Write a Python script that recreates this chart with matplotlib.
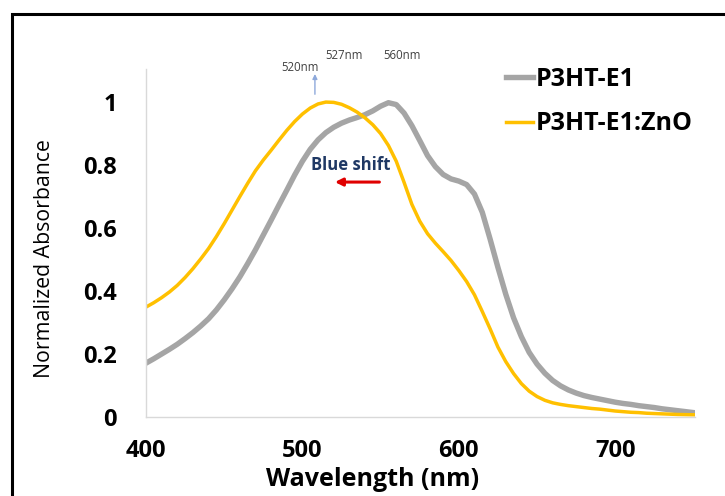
"""Normalized absorbance of P3HT-E1 with and without ZnO."""
import numpy as np
import matplotlib
matplotlib.use("Agg")
import matplotlib.pyplot as plt
from matplotlib.patches import Rectangle

plt.rcParams["font.family"] = ["Open Sans", "DejaVu Sans"]

# wavelength grid (nm) and normalised absorbance
wavelength = list(range(400, 755, 5))
p3ht_e1 = [0.171, 0.185, 0.200, 0.215, 0.231, 0.249, 0.268, 0.289, 0.312, 0.340,
           0.372, 0.407, 0.445, 0.487, 0.531, 0.578, 0.625, 0.673, 0.720, 0.768,
           0.812, 0.850, 0.880, 0.903, 0.920, 0.933, 0.943, 0.951, 0.960, 0.972,
           0.987, 0.998, 0.992, 0.965, 0.925, 0.878, 0.830, 0.795, 0.770, 0.756,
           0.749, 0.738, 0.708, 0.650, 0.565, 0.475, 0.390, 0.315, 0.255, 0.205,
           0.168, 0.139, 0.116, 0.099, 0.086, 0.076, 0.068, 0.062, 0.057, 0.052,
           0.047, 0.043, 0.040, 0.036, 0.033, 0.030, 0.026, 0.023, 0.020, 0.017,
           0.014]
p3ht_e1_zno = [0.349, 0.363, 0.379, 0.397, 0.418, 0.443, 0.471, 0.502, 0.535, 0.573,
               0.614, 0.657, 0.700, 0.742, 0.782, 0.816, 0.847, 0.879, 0.910, 0.938,
               0.962, 0.981, 0.994, 1.000, 0.999, 0.993, 0.982, 0.968, 0.950, 0.928,
               0.900, 0.862, 0.812, 0.745, 0.675, 0.622, 0.582, 0.552, 0.525, 0.497,
               0.465, 0.430, 0.388, 0.335, 0.280, 0.222, 0.176, 0.138, 0.106, 0.082,
               0.065, 0.053, 0.045, 0.040, 0.036, 0.033, 0.030, 0.027, 0.025, 0.022,
               0.019, 0.017, 0.015, 0.014, 0.012, 0.011, 0.010, 0.009, 0.008, 0.0075,
               0.007]

COLORS = {"P3HT-E1": "#A5A5A5", "P3HT-E1:ZnO": "#FFC000"}

x_ticks = [400, 500, 600, 700]
y_ticks = [0, 0.2, 0.4, 0.6, 0.8, 1]
y_tick_labels = ["0", "0.2", "0.4", "0.6", "0.8", "1"]

W, H = 725, 496
fig = plt.figure(figsize=(W / 100, H / 100), dpi=100)
ax = fig.add_axes([146 / W, 1 - 417 / H, (695 - 146) / W, (417 - 69) / H])

ax.plot(wavelength, p3ht_e1, color=COLORS["P3HT-E1"], lw=3.9,
        label="P3HT-E1", solid_joinstyle="round")
ax.plot(wavelength, p3ht_e1_zno, color=COLORS["P3HT-E1:ZnO"], lw=2.5,
        label="P3HT-E1:ZnO", solid_joinstyle="round")

ax.set_xlim(400, 751)
ax.set_ylim(0, 1.105)
ax.set_xticks(x_ticks)
ax.set_xticklabels([str(t) for t in x_ticks], fontsize=17, fontweight="bold")
ax.set_yticks(y_ticks)
ax.set_yticklabels(y_tick_labels, fontsize=17, fontweight="bold")
ax.tick_params(length=0)
ax.tick_params(axis="y", pad=21)
ax.tick_params(axis="x", pad=16)
for s in ["top", "right"]:
    ax.spines[s].set_visible(False)
for s in ["left", "bottom"]:
    ax.spines[s].set_color("#D9D9D9")
    ax.spines[s].set_linewidth(1)

ax.set_xlabel("Wavelength (nm)", fontsize=18, fontweight="bold")
ax.xaxis.set_label_coords((373 - 146) / 549, (417 - 479) / 348)
ax.xaxis.label.set_va("center")
ax.set_ylabel("Normalized Absorbance", fontsize=15.3)
ax.yaxis.set_label_coords((45 - 146) / 549, (417 - 259) / 348)
ax.yaxis.label.set_va("center")

# peak annotations
ax.text(498.5, 1.111, "520nm", fontsize=8.3, color="#404040", ha="center", va="center")
ax.text(526.7, 1.149, "527nm", fontsize=8.3, color="#404040", ha="center", va="center")
ax.text(563.8, 1.149, "560nm", fontsize=8.3, color="#404040", ha="center", va="center")
ax.annotate("", xy=(508, 1.098), xytext=(508, 1.016), annotation_clip=False,
            arrowprops=dict(arrowstyle="-|>", color="#8EA9DB", lw=1,
                            mutation_scale=7))

ax.text(531, 0.80, "Blue shift", fontsize=12, fontweight="bold",
        color="#1F3864", ha="center", va="center")
ax.annotate("", xy=(519, 0.746), xytext=(551, 0.746),
            arrowprops=dict(arrowstyle="-|>", color="#E00000", lw=2.2,
                            mutation_scale=11))

ax.legend(loc="upper left", bbox_to_anchor=(493 / W, 1 - 54 / H),
          bbox_transform=fig.transFigure, frameon=False, borderpad=0,
          handlelength=1.1, handletextpad=0.12, labelspacing=0.8,
          prop={"size": 18, "weight": "bold"})

# outer frame (only left and top edges are inside the picture)
fig.add_artist(Rectangle((12 / W, -0.2), 1.5, 1 - 14 / H + 0.2,
                         transform=fig.transFigure, fill=False,
                         edgecolor="black", lw=2.2))

fig.savefig("out.png", dpi=100)
